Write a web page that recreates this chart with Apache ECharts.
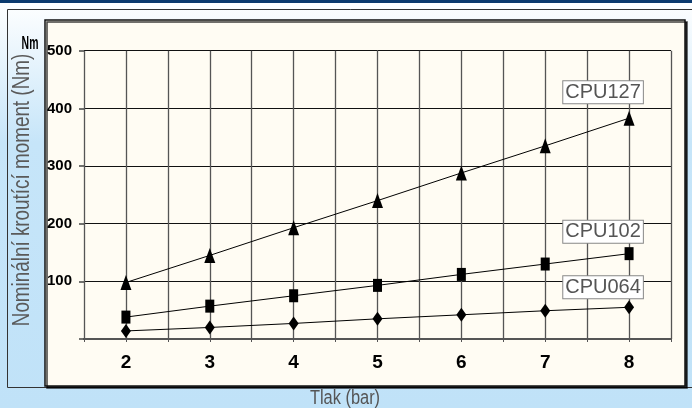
<!DOCTYPE html>
<html>
<head>
<meta charset="utf-8">
<script src="https://cdn.jsdelivr.net/npm/echarts@6/dist/echarts.min.js"></script>
<style>
html,body{margin:0;padding:0;width:692px;height:408px;overflow:hidden;}
#chart{width:692px;height:408px;}
</style>
</head>
<body>
<div id="chart"></div>
<script>
// ---- data ----
var pressure = [2, 3, 4, 5, 6, 7, 8];           // Tlak (bar)
var cpu127 = [98, 145, 193, 240, 288, 335, 383];
var cpu102 = [38, 57, 75, 93, 112, 130, 148];
var cpu064 = [14, 20, 27, 35, 42, 49, 55];
var seriesNames = ['CPU127', 'CPU102', 'CPU064'];
var yTicks = [100, 200, 300, 400, 500];
var xTitle = 'Tlak (bar)';
var yTitle = 'Nominální kroutící moment (Nm)';
var yUnit = 'Nm';

var SANS = "'Liberation Sans', Arial, sans-serif";

function pairs(vals) { return pressure.map(function (p, i) { return [p, vals[i]]; }); }

function makeSeries(name, vals, symbol, size, offset) {
  var last = vals.length - 1;
  return {
    name: name,
    type: 'line',
    data: pairs(vals),
    symbol: symbol,
    symbolSize: size,
    showAllSymbol: true,
    itemStyle: { color: '#000' },
    lineStyle: { color: '#000', width: 1 },
    z: 5,
    markPoint: {
      symbol: 'circle',
      symbolSize: 0,
      data: [{ coord: [pressure[last], vals[last]] }],
      label: {
        show: true,
        position: 'inside',
        formatter: name,
        offset: offset,
        fontFamily: SANS,
        fontSize: 20,
        color: '#555',
        backgroundColor: '#fff',
        borderColor: '#888',
        borderWidth: 1,
        padding: [1, 2, 0, 2],
        lineHeight: 21
      }
    }
  };
}

var chart = echarts.init(document.getElementById('chart'), null, { renderer: 'canvas' });

var option = {
  animation: false,
  graphic: [
    { type: 'rect', z: -10, silent: true, shape: { x: 0, y: 0, width: 692, height: 408 },
      style: { fill: new echarts.graphic.LinearGradient(0, 0, 0, 1, [
        { offset: 0, color: '#ffffff' },
        { offset: 0.35, color: '#c6e5f9' },
        { offset: 1, color: '#c0e2f8' }
      ]) } },
    { type: 'rect', z: -9, silent: true, shape: { x: 0, y: 0, width: 692, height: 3 },
      style: { fill: '#0b3a6e' } },
    { type: 'rect', z: -9, silent: true, shape: { x: 7.5, y: 9.5, width: 700, height: 378 },
      style: { fill: 'none', stroke: '#333', lineWidth: 1 } },
    { type: 'rect', z: -8, silent: true, shape: { x: 45, y: 20, width: 640, height: 366 },
      style: { fill: '#fffcf3', stroke: '#111', lineWidth: 1.5,
        shadowColor: 'rgba(0,0,0,0.75)', shadowOffsetX: 2, shadowOffsetY: 2, shadowBlur: 0 } },
    { type: 'text', z: 10, silent: true, x: 30, y: 44, scaleX: 0.58,
      style: { text: yUnit, font: 'bold 18px ' + SANS, fill: '#000', align: 'center', verticalAlign: 'middle' } },
    { type: 'text', z: 10, silent: true, x: 345, y: 398.5, scaleX: 0.82,
      style: { text: xTitle, font: '20px ' + SANS, fill: '#555', align: 'center', verticalAlign: 'middle' } },
    { type: 'text', z: 10, silent: true, x: 23, y: 190, rotation: Math.PI / 2, scaleX: 0.82,
      style: { text: yTitle, font: '23px ' + SANS, fill: '#5a5a5a', align: 'center', verticalAlign: 'middle' } }
  ],
  grid: { left: 84, right: 21, top: 50.7, bottom: 69, containLabel: false, outerBoundsMode: 'none' },
  xAxis: {
    type: 'value',
    min: 1.5,
    max: 8.5,
    interval: 0.5,
    axisLine: { show: true, lineStyle: { color: '#555', width: 2 } },
    axisTick: { show: true, length: 3, lineStyle: { color: '#555', width: 1 } },
    axisLabel: {
      margin: 14,
      fontFamily: SANS,
      fontWeight: 'bold',
      fontSize: 19,
      color: '#000',
      formatter: function (v) { return pressure.indexOf(v) >= 0 ? String(v) : ''; }
    },
    splitLine: { show: true, lineStyle: { color: '#555', width: 1.3 } }
  },
  yAxis: {
    type: 'value',
    min: 0,
    max: 500,
    interval: 100,
    axisLine: { show: false },
    axisTick: { show: true, length: 5, lineStyle: { color: '#444', width: 1.5 } },
    axisLabel: {
      margin: 12,
      fontFamily: SANS,
      fontWeight: 'bold',
      fontSize: 15,
      color: '#000',
      formatter: function (v) { return yTicks.indexOf(v) >= 0 ? String(v) : ''; }
    },
    splitLine: { show: true, lineStyle: { color: '#111', width: 1 } }
  },
  series: [
    makeSeries(seriesNames[0], cpu127, 'triangle', [11, 15], [-26, -26]),
    makeSeries(seriesNames[1], cpu102, 'rect', [9, 13], [-26, -22]),
    makeSeries(seriesNames[2], cpu064, 'diamond', [10, 14], [-26, -20])
  ]
};
chart.setOption(option);
</script>
</body>
</html>
